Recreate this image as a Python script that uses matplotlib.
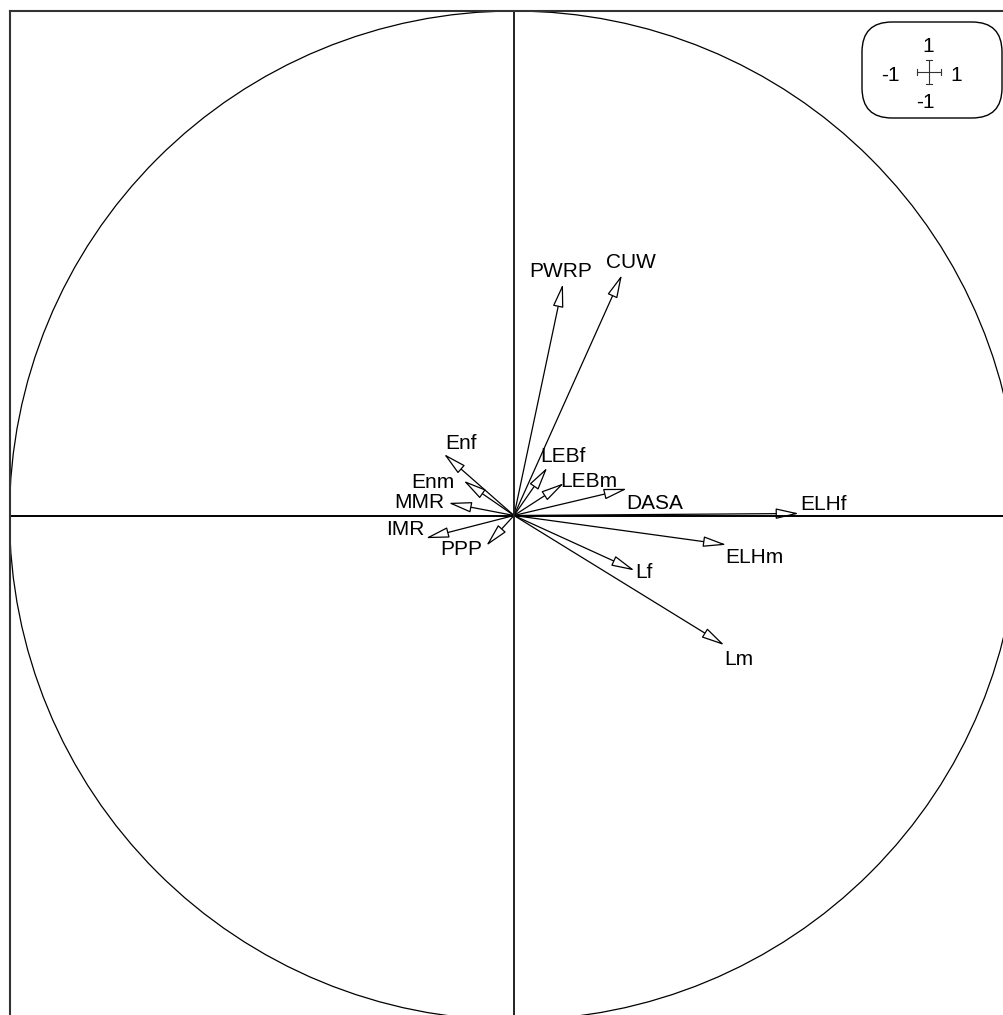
import numpy as np
import matplotlib
matplotlib.use("Agg")
from matplotlib import pyplot as plt
from matplotlib.patches import Circle, FancyArrowPatch, FancyBboxPatch

plt.rcParams['font.family'] = ['Liberation Sans', 'DejaVu Sans']

# correlation circle coordinates
labels = ['PWRP', 'CUW', 'LEBf', 'LEBm', 'DASA', 'ELHf', 'ELHm',
          'Lf', 'Lm', 'Enf', 'Enm', 'MMR', 'IMR', 'PPP']
xs = [0.097, 0.214, 0.066, 0.099, 0.224, 0.565, 0.421,
      0.239, 0.417, -0.139, -0.100, -0.130, -0.175, -0.055]
ys = [0.459, 0.477, 0.095, 0.064, 0.053, 0.004, -0.058,
      -0.109, -0.257, 0.122, 0.069, 0.025, -0.045, -0.060]

# label offsets from arrow tip, in pixels (layout only)
offs = {'PWRP': (-2, 12), 'CUW': (9, 12), 'LEBf': (16, 11), 'LEBm': (25, 2),
        'DASA': (28, -15), 'ELHf': (24, 9), 'ELHm': (28, -13), 'Lf': (9, -2),
        'Lm': (14, -14), 'Enf': (17, 10), 'Enm': (-31, -2), 'MMR': (-29, 0),
        'IMR': (-20, 9), 'PPP': (-25, -4)}

fig = plt.figure(figsize=(10.04, 10.15), dpi=100)
ax = fig.add_axes([9.5 / 1004, -5 / 1015, 1009 / 1004, 1009 / 1015])
ax.set_xlim(-1, 1)
ax.set_ylim(-1, 1)
ax.set_xticks([])
ax.set_yticks([])
for s in ax.spines.values():
    s.set_linewidth(1.5)
    s.set_color('#333333')

ax.axhline(0, color='black', linewidth=1.4)
ax.axvline(0, color='#222222', linewidth=1.4)
ax.add_patch(Circle((0, 0), 1, fill=False, edgecolor='black', linewidth=0.9))

for i in range(len(labels)):
    arr = FancyArrowPatch((0, 0), (xs[i], ys[i]),
                          arrowstyle='-|>,head_length=14.4,head_width=3.3',
                          mutation_scale=1, shrinkA=0, shrinkB=0,
                          facecolor='white', edgecolor='black', linewidth=0.9)
    ax.add_patch(arr)
    ax.annotate(labels[i], (xs[i], ys[i]), xytext=offs[labels[i]],
                textcoords='offset pixels', ha='center', va='center',
                fontsize=15)

# scale box in the top right corner, drawn in pixel coordinates
ov = fig.add_axes([0, 0, 1, 1])
ov.set_xlim(0, 1004)
ov.set_ylim(1015, 0)
ov.axis('off')
ov.patch.set_alpha(0)
box = FancyBboxPatch((862, 22), 140, 96, boxstyle='round,pad=0,rounding_size=30',
                     facecolor='white', edgecolor='black', linewidth=1.0)
ov.add_patch(box)
cx, cy = 929, 72
ov.plot([cx - 12, cx + 12], [cy, cy], color='#333333', linewidth=0.8)
ov.plot([cx, cx], [cy - 12, cy + 12], color='#333333', linewidth=0.8)
ov.plot([cx - 12, cx - 12], [cy - 3, cy + 3], color='#333333', linewidth=0.8)
ov.plot([cx + 12, cx + 12], [cy - 3, cy + 3], color='#333333', linewidth=0.8)
ov.plot([cx - 3, cx + 3], [cy - 12, cy - 12], color='#333333', linewidth=0.8)
ov.plot([cx - 3, cx + 3], [cy + 12, cy + 12], color='#333333', linewidth=0.8)
ov.text(928, 46, '1', fontsize=15, ha='center', va='center')
ov.text(890, 75, '-1', fontsize=15, ha='center', va='center')
ov.text(956, 75, '1', fontsize=15, ha='center', va='center')
ov.text(925, 102, '-1', fontsize=15, ha='center', va='center')

fig.savefig('out.png', dpi=100)
